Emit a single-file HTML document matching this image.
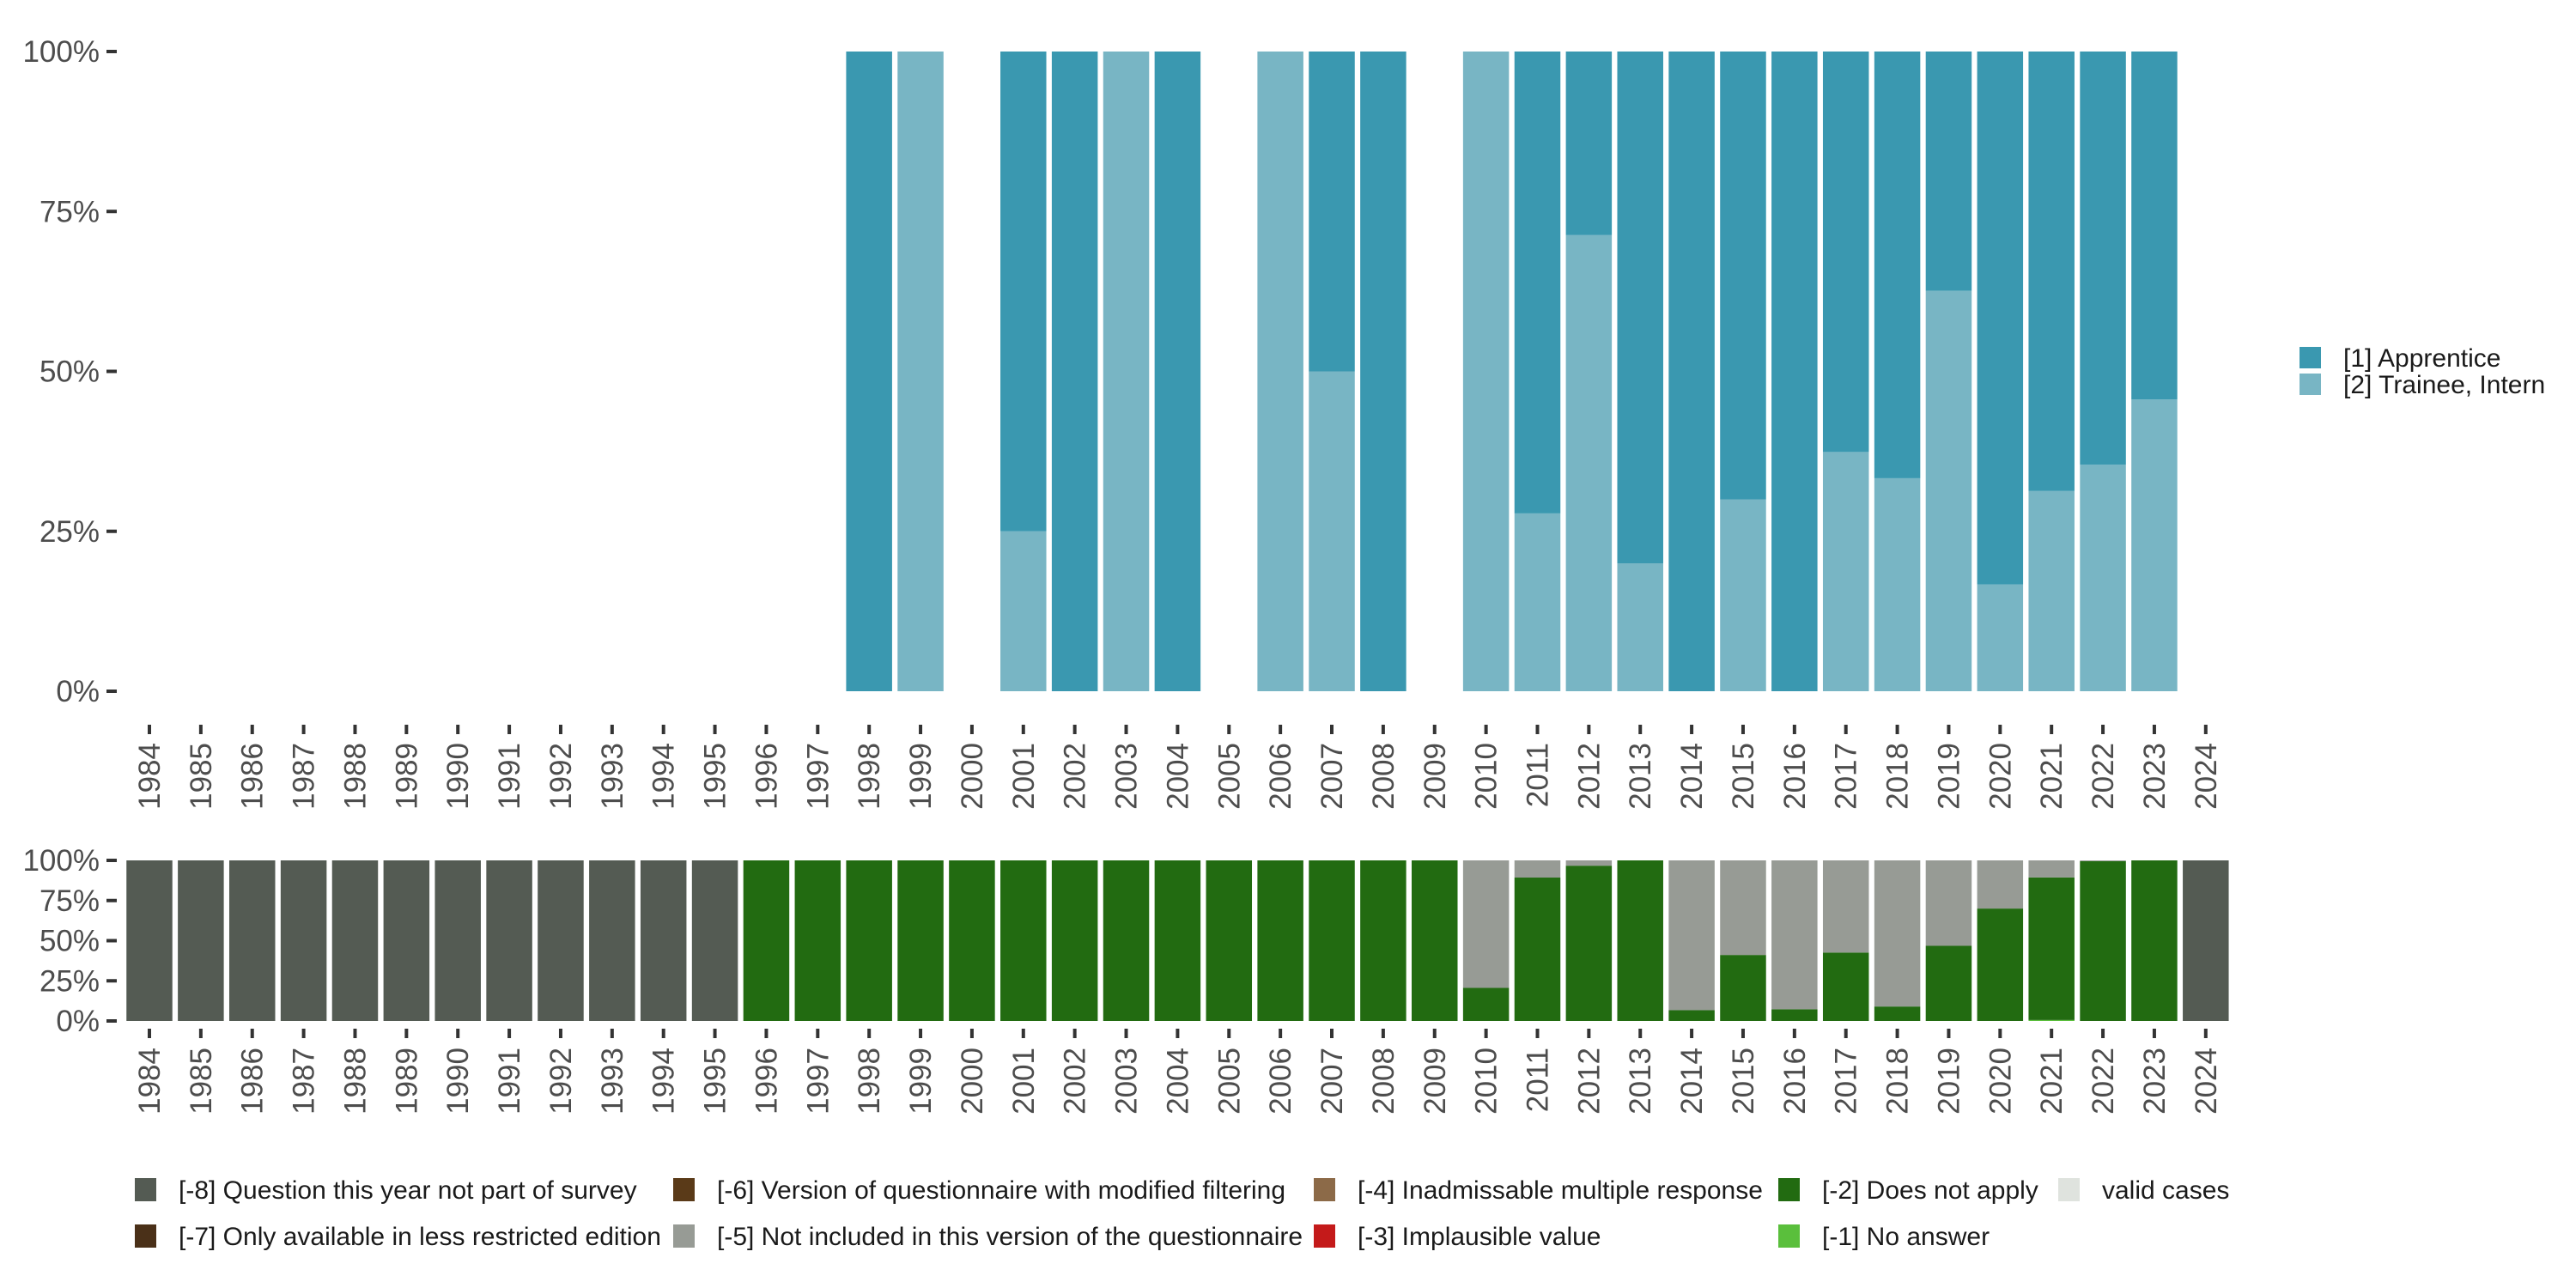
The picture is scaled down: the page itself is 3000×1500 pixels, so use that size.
<!DOCTYPE html>
<html><head><meta charset="utf-8">
<style>
html,body{margin:0;padding:0;background:#fff;}
svg{display:block;font-family:"Liberation Sans","DejaVu Sans",sans-serif;}
</style></head>
<body>
<svg id="chart" width="3000" height="1500" viewBox="0 0 3000 1500" xmlns="http://www.w3.org/2000/svg"></svg>
<script>
const years = [];
for (let y = 1984; y <= 2024; y++) years.push(y);
// top panel: share of trainee (rest = apprentice)
const topYears = [1998,1999,2001,2002,2003,2004,2006,2007,2008,2010,2011,2012,2013,2014,2015,2016,2017,2018,2019,2020,2021,2022,2023];
const traineeShare = [0,1,0.25,0,1,0,1,0.5,0,1,0.278,0.713,0.2,0,0.30,0,0.374,0.333,0.626,0.167,0.313,0.354,0.456];
// bottom panel
const notSurveyYears = [1984,1985,1986,1987,1988,1989,1990,1991,1992,1993,1994,1995,2024];
const doesNotApplyYears = [1996,1997,1998,1999,2000,2001,2002,2003,2004,2005,2006,2007,2008,2009,2010,2011,2012,2013,2014,2015,2016,2017,2018,2019,2020,2021,2022,2023];
const doesNotApplyShare = [1,1,1,1,1,1,1,1,1,1,1,1,1,1,0.206,0.893,0.967,1,0.067,0.411,0.073,0.426,0.09,0.468,0.70,0.888,0.995,1];
const noAnswerYears = [2021];
const noAnswerShare = [0.006];
const yTicks = [0,0.25,0.5,0.75,1];
const yTickLabels = ["0%","25%","50%","75%","100%"];

const C = {app:"#3a98b0", trn:"#78b5c4", m8:"#545b53", m7:"#4a3018", m6:"#5a3a18", m5:"#979b95", m4:"#8c6a48", m3:"#c41a1a", m2:"#226b11", m1:"#5abf3c", valid:"#dfe3de"};
const svg = document.getElementById('chart');
const NS = "http://www.w3.org/2000/svg";
function mk(tag, attrs, parent){const e=document.createElementNS(NS,tag);for(const k in attrs)e.setAttribute(k,attrs[k]);(parent||svg).appendChild(e);return e;}

const x0 = 174, step = 59.87, bw = 53.5;
const xs = y => x0 + (y - 1984) * step;
const topY0 = 805, topY1 = 60;
const ty = v => topY0 - v * (topY0 - topY1);
const botY0 = 1189, botY1 = 1002;
const by = v => botY0 - v * (botY0 - botY1);

function axes(yf, labelY, tickTop, prefix){
  yTicks.forEach((t,i)=>{
    const l = mk('line',{x1:124,x2:136,y1:yf(t),y2:yf(t),stroke:'#333','stroke-width':4});
    
    
    const tx = mk('text',{x:116,y:yf(t)+12,'text-anchor':'end','font-size':35,fill:'#4d4d4d'});
    tx.textContent = yTickLabels[i];
    
    
  });
  years.forEach(y=>{
    const l = mk('line',{x1:xs(y),x2:xs(y),y1:tickTop,y2:tickTop+11,stroke:'#333','stroke-width':4});
    
    
    const tx = mk('text',{x:0,y:0,'text-anchor':'end','font-size':35,fill:'#4d4d4d',transform:`translate(${xs(y)+12},${labelY}) rotate(-90)`});
    tx.textContent = y;
    
    
  });
}
axes(ty, 865, 844, 'top');
axes(by, 1220, 1198, 'bottom');

function bar(x, ya, yb, color, name){
  const r = mk('rect',{x:x-bw/2,y:Math.min(ya,yb),width:bw,height:Math.abs(yb-ya),fill:color});
  
  
}
topYears.forEach((y,i)=>{
  const t = traineeShare[i];
  if (t > 0) bar(xs(y), ty(0), ty(t), C.trn, 'bar-trainee-'+y);
  if (t < 1) bar(xs(y), ty(t), ty(1), C.app, 'bar-apprentice-'+y);
});
notSurveyYears.forEach(y=> bar(xs(y), by(0), by(1), C.m8, 'bar-not-surveyed-'+y));
doesNotApplyYears.forEach((y,i)=>{
  const k = noAnswerYears.indexOf(y);
  const na = k >= 0 ? noAnswerShare[k] : 0;
  const d = doesNotApplyShare[i];
  if (na > 0) bar(xs(y), by(0), by(na), C.m1, 'bar-no-answer-'+y);
  bar(xs(y), by(na), by(na + d), C.m2, 'bar-does-not-apply-'+y);
  if (na + d < 1) bar(xs(y), by(na + d), by(1), C.m5, 'bar-not-included-'+y);
});

// top legend
[["[1] Apprentice",C.app,417],["[2] Trainee, Intern",C.trn,448]].forEach(([lab,col,yy],i)=>{
  const g = mk('g',{});
  
  
  mk('rect',{x:2678,y:yy-13,width:25,height:25,fill:col},g);
  const t = mk('text',{x:2729,y:yy+10,'font-size':30,fill:'#1a1a1a'},g);
  t.textContent = lab;
});
// bottom legend
const bl = [
 ["[-8] Question this year not part of survey",C.m8,157,1385],
 ["[-7] Only available in less restricted edition",C.m7,157,1439],
 ["[-6] Version of questionnaire with modified filtering",C.m6,784,1385],
 ["[-5] Not included in this version of the questionnaire",C.m5,784,1439],
 ["[-4] Inadmissable multiple response",C.m4,1530,1385],
 ["[-3] Implausible value",C.m3,1530,1439],
 ["[-2] Does not apply",C.m2,2071,1385],
 ["[-1] No answer",C.m1,2071,1439],
 ["valid cases",C.valid,2397,1385]
];
bl.forEach(([lab,col,x,yy],i)=>{
  const g = mk('g',{});
  
  
  mk('rect',{x:x,y:yy-13,width:25,height:27,fill:col},g);
  const t = mk('text',{x:x+51,y:yy+11,'font-size':30,fill:'#1a1a1a'},g);
  t.textContent = lab;
});
</script>
</body></html>
